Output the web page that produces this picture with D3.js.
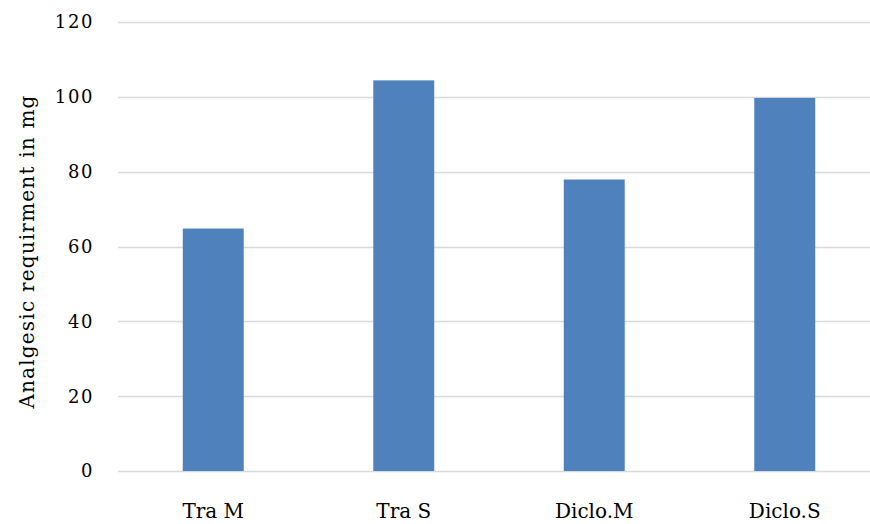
<!DOCTYPE html>
<html>
<head>
<meta charset="utf-8">
<script src="https://cdn.jsdelivr.net/npm/d3@7"></script>
<style>
  body { margin: 0; background: #fff; }
  svg { display: block; }
  .tick-label { font-family: "DejaVu Serif", serif; fill: #000; }
</style>
</head>
<body>
<svg id="chart" width="870" height="524"></svg>
<script>
// Data
var categories = ["Tra M", "Tra S", "Diclo.M", "Diclo.S"];
var values = [64.8, 104.4, 77.9, 99.7];
var yTicks = [0, 20, 40, 60, 80, 100, 120];
var yLabel = "Analgesic requirment in mg";

var width = 870, height = 524;
var plot = { left: 118, right: 880, top: 22, bottom: 471 };

var svg = d3.select("#chart");

var x = d3.scaleBand()
  .domain(categories)
  .range([plot.left, plot.right])
  .paddingInner(0.68)
  .paddingOuter(0.34);

var y = d3.scaleLinear()
  .domain([0, 120])
  .range([plot.bottom, plot.top]);

// Gridlines
svg.append("g")
  .selectAll("line")
  .data(yTicks)
  .join("line")
  .attr("x1", plot.left)
  .attr("x2", plot.right)
  .attr("y1", d => Math.round(y(d)) + 0.5)
  .attr("y2", d => Math.round(y(d)) + 0.5)
  .attr("stroke", "#d9d9d9")
  .attr("stroke-width", 1.5);

// Bars
svg.append("g")
  .selectAll("rect")
  .data(values)
  .join("rect")
  .attr("x", (d, i) => x(categories[i]))
  .attr("y", d => y(d))
  .attr("width", x.bandwidth())
  .attr("height", d => y(0) - y(d))
  .attr("fill", "#4f81bd");

// Y tick labels
svg.append("g")
  .selectAll("text")
  .data(yTicks)
  .join("text")
  .attr("class", "tick-label")
  .attr("x", 94)
  .attr("y", d => y(d))
  .attr("dy", "0.36em")
  .attr("text-anchor", "end")
  .style("font-size", "18px")
  .style("letter-spacing", "1.6px")
  .text(d => d);

// X category labels
svg.append("g")
  .selectAll("text")
  .data(categories)
  .join("text")
  .attr("class", "tick-label")
  .attr("x", d => x(d) + x.bandwidth() / 2)
  .attr("y", 518)
  .attr("text-anchor", "middle")
  .style("font-size", "20px")
  .text(d => d);

// Y axis title
svg.append("text")
  .attr("class", "tick-label")
  .attr("transform", "translate(34," + ((plot.top + plot.bottom) / 2 + 5) + ") rotate(-90)")
  .attr("text-anchor", "middle")
  .style("font-size", "20px")
  .style("letter-spacing", "1.2px")
  .text(yLabel);
</script>
</body>
</html>
